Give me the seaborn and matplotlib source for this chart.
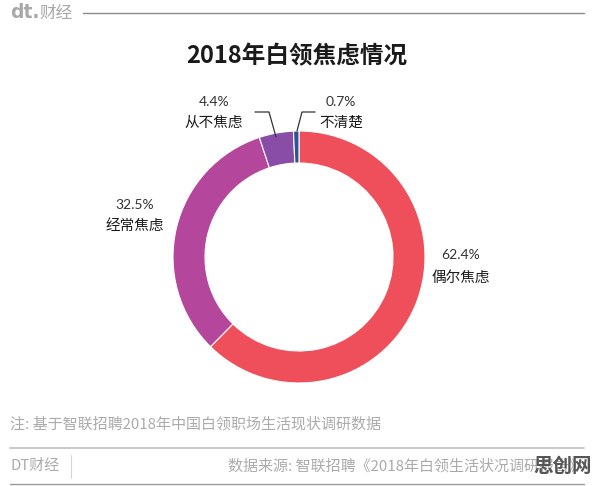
import matplotlib
matplotlib.use("Agg")
import matplotlib.pyplot as plt
import seaborn as sns

# data
labels = ['偶尔焦虑', '经常焦虑', '从不焦虑', '不清楚']
shares = [62.4, 32.5, 4.4, 0.7]
pct_text = ['62.4%', '32.5%', '4.4%', '0.7%']
colors = ['#EF4F5A', '#B4469B', '#8A4DA7', '#2B5597']

title = '2018年白领焦虑情况'
note = '注: 基于智联招聘2018年中国白领职场生活现状调研数据'
source = '数据来源: 智联招聘《2018年白领生活状况调研报告》'

sns.set_theme(style='white')
plt.rcParams['font.family'] = ['Noto Sans CJK SC', 'DejaVu Sans']

W, H = 596, 486
fig = plt.figure(figsize=(W / 100, H / 100), dpi=100)
ax = fig.add_axes([0, 0, 1, 1])


def Y(y):
    # image pixel row -> data y
    return H - y


# donut
cx, cy, r = 299, 257, 126
ax.pie(shares, colors=colors, startangle=90, counterclock=False,
       center=(cx, Y(cy)), radius=r, frame=True,
       wedgeprops=dict(width=32, edgecolor='white', linewidth=0.8))
ax.set_xlim(0, W)
ax.set_ylim(0, H)
ax.set_aspect('equal')
ax.axis('off')

# title
ax.text(W / 2 - 1, Y(56), title, ha='center', va='center', fontsize=17,
        fontweight='bold', color='#1a1a1a')

# slice labels
lab_pos = [(461, 255, 278), (135, 205, 227), (214, 102, 123), (341, 102, 123)]
for name, pct, (x, yp, yn) in zip(labels, pct_text, lab_pos):
    ax.text(x, Y(yp), pct, ha='center', va='center', fontsize=10,
            color='#333333', family=['Lato', 'Noto Sans CJK SC'])
    ax.text(x, Y(yn), name, ha='center', va='center', fontsize=10.5,
            color='#1a1a1a')

# leader lines for the small slices
ax.plot([255, 269, 276], [Y(112), Y(112), Y(137)], color='#333333', lw=0.9)
ax.plot([315, 302, 297], [Y(112), Y(112), Y(131)], color='#333333', lw=0.9)

# header
ax.text(10, Y(13), 'dt.', ha='left', va='center', fontsize=13.5, fontweight='heavy',
        color='#a8a8a8', family=['DejaVu Sans'])
ax.text(39, Y(13.5), '财经', ha='left', va='center', fontsize=12, color='#a8a8a8')
ax.plot([83, 584], [Y(13.5), Y(13.5)], color='#8a8a8a', lw=1)

# footer
ax.text(10, Y(424), note, ha='left', va='center', fontsize=10.8, color='#ababab')
ax.plot([10, 584], [Y(448), Y(448)], color='#cccccc', lw=1.5)
ax.text(10, Y(466), 'DT财经', ha='left', va='center', fontsize=10.8, color='#ababab')
ax.plot([71, 71], [Y(455), Y(478)], color='#d5d5d5', lw=0.8)
ax.text(584, Y(466), source, ha='right', va='center', fontsize=10.8, color='#ababab')
ax.plot([10, 584], [Y(484), Y(484)], color='#999999', lw=1)
ax.text(592, Y(466), '思创网', ha='right', va='center', fontsize=14,
        fontweight='bold', color='#555555')

fig.savefig('out.png', dpi=100, facecolor='white')
